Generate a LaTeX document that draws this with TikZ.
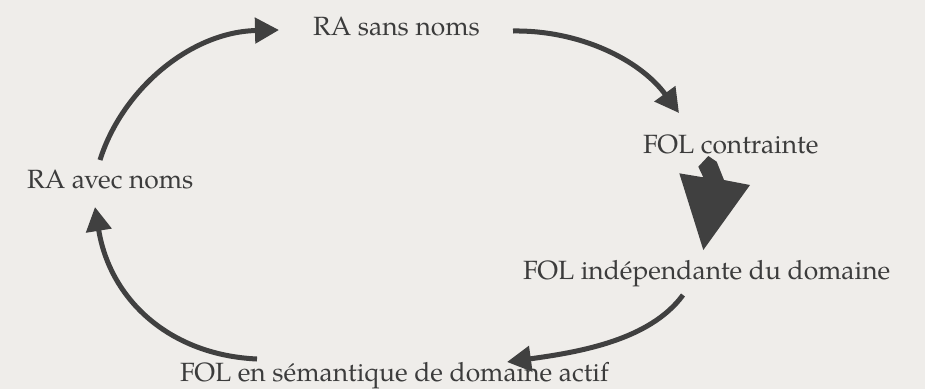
\documentclass[tikz,border=0pt]{standalone}
\usepackage{fontspec}
\setmainfont{TeX Gyre Pagella}
\usetikzlibrary{arrows.meta}
\definecolor{bg}{RGB}{239,237,234}
\definecolor{ink}{RGB}{60,60,60}
\definecolor{arr}{RGB}{64,64,64}
\begin{document}
\begin{tikzpicture}[x=1pt,y=-1pt,
  lbl/.style={anchor=base west,inner sep=0pt,text=ink,font=\fontsize{26.4}{29}\selectfont},
  conn/.style={draw=arr,line width=5pt,-{Triangle[length=24pt,width=25pt]}}]
\fill[bg] (0,0) rectangle (925,389);
\useasboundingbox (0,0) rectangle (925,389);
\node[lbl] (rs) at (313,35) {RA sans noms};
\node[lbl] (fc) at (643,153) {FOL contrainte};
\node[lbl] (ra) at (27,188) {RA avec noms};
\node[lbl] (fi) at (523,279) {FOL indépendante du domaine};
\node[lbl] (fs) at (180,381) {FOL en sémantique de domaine actif};
\coordinate (a1s) at (100,160);
\coordinate (a1e) at (279,30);
\coordinate (a2s) at (513,31);
\coordinate (a2e) at (679,113);
\coordinate (a4s) at (683,295);
\coordinate (a4e) at (507,362);
\coordinate (a5s) at (257,359);
\coordinate (a5e) at (95,207);
\draw[conn] (a1s) .. controls (122,90) and (190,32) .. (a1e);
\draw[conn] (a2s) .. controls (580,30) and (640,60) .. (a2e);
\draw[conn] (a4s) .. controls (650,340) and (580,352) .. (a4e);
\draw[conn] (a5s) .. controls (170,355) and (110,300) .. (a5e);
\fill[arr] (679.3,173.3) -- (703.3,177.3) -- (698.3,166.7) -- (708.3,156) -- (716.7,161.7) -- (724,180) -- (750,185) -- (703.3,250) -- cycle;
\end{tikzpicture}
\end{document}
